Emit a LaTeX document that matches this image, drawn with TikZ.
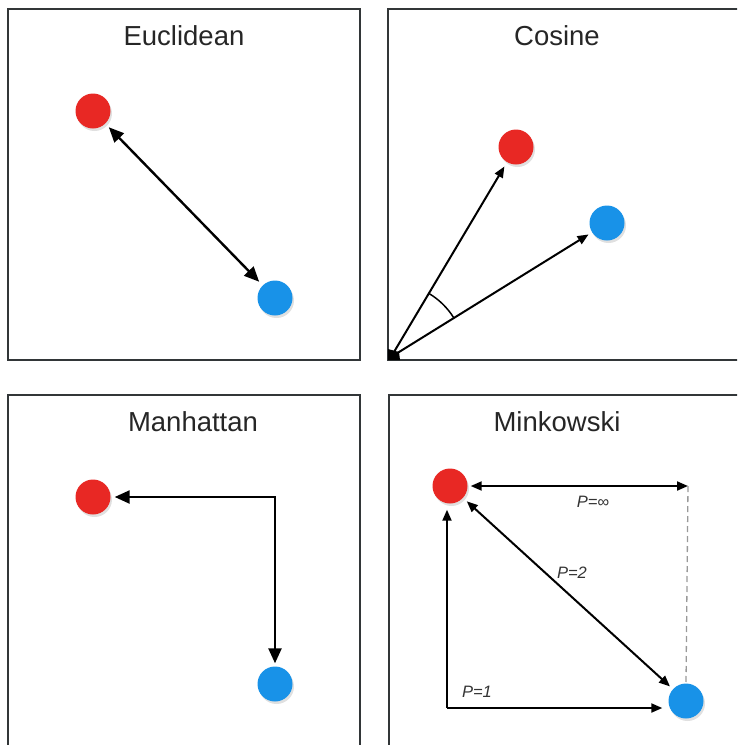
\documentclass[tikz,border=0pt]{standalone}
\usepackage{fontspec}
\setmainfont{Liberation Sans}
\usetikzlibrary{arrows.meta}
\definecolor{dotred}{RGB}{232,40,36}
\definecolor{dotblue}{RGB}{24,146,232}
\definecolor{frame}{RGB}{50,54,56}
\tikzset{
  panel/.style={draw=frame,line width=2.2pt},
  title/.style={font=\fontsize{27.5}{30}\selectfont,text=black!85,inner sep=0pt},
  plabel/.style={font=\itshape\fontsize{16.5}{18}\selectfont,text=black!80,inner sep=0pt},
  dot/.style={circle,minimum size=35pt,inner sep=0pt,
    preaction={fill=black!35,opacity=0.35,transform canvas={shift={(1.5pt,-2.5pt)}}}},
  reddot/.style={dot,fill=dotred},
  bluedot/.style={dot,fill=dotblue},
  bigarrow/.style={line width=2.4pt,arrows={Triangle[length=15pt,width=13pt]-Triangle[length=15pt,width=13pt]}},
  smallarrow/.style={line width=2pt},
  tipL/.style={arrows={Triangle[length=11pt,width=9pt]-}},
  tipR/.style={arrows={-Triangle[length=11pt,width=9pt]}},
  tipLR/.style={arrows={Triangle[length=11pt,width=9pt]-Triangle[length=11pt,width=9pt]}},
}
\begin{document}
\begin{tikzpicture}[x=1pt,y=-1pt]
\useasboundingbox (0,0) rectangle (737,745);
\begin{scope}
\clip (0,0) rectangle (737,745);
% panels
\draw[panel] (8,9) rectangle (360,360);
\draw[panel] (388,9) rectangle (745,360);
\draw[panel] (8,395) rectangle (360,760);
\draw[panel] (389,395) rectangle (745,760);
\end{scope}

% Euclidean
\node[title] (t1) at (184,36) {Euclidean};
\node[reddot] (r1) at (93,111) {};
\node[bluedot] (b1) at (275,298) {};
\draw[bigarrow,shorten <=5pt,shorten >=5pt] (r1) -- (b1);

% Cosine
\node[title] (t2) at (557,36) {Cosine};
\node[reddot] (r2) at (516,147) {};
\node[bluedot] (b2) at (607,223) {};
\coordinate (o) at (391,357);
\fill[black] (388,360) -- (388,349) -- (399,352) -- (400,360) -- cycle;
\draw[smallarrow,tipR,shorten >=5pt] (o) -- (r2);
\draw[smallarrow,tipR,shorten >=4pt] (o) -- (b2);
\draw[line width=1.5pt] ([shift={(-31.9:74)}]o) arc[start angle=-31.9,end angle=-59.4,radius=74];

% Manhattan
\node[title] (t3) at (193,422) {Manhattan};
\node[reddot] (r3) at (93,497) {};
\node[bluedot] (b3) at (275,684) {};
\draw[bigarrow,shorten <=3pt,shorten >=4pt] (b3.north) |- (r3.east);

% Minkowski
\node[title] (t4) at (557,422) {Minkowski};
\node[reddot] (r4) at (450,486) {};
\node[bluedot] (b4) at (686,701) {};
\coordinate (c) at (688,486);
\coordinate (d) at (447,708);
\draw[smallarrow,tipLR,shorten <=3pt] (r4.east) -- (c);
\draw[black!40,line width=1.3pt,dash pattern=on 6pt off 4pt] (c) -- (b4.north);
\draw[smallarrow,tipLR,shorten <=5pt,shorten >=4pt] (r4) -- (b4);
\draw[smallarrow,tipL,shorten <=6pt] (r4.south -| d) -- (d);
\draw[smallarrow,tipR,shorten >=6pt] (d) -- (d -| b4.west);
\node[plabel] (l1) at (593,502) {P=∞};
\node[plabel] (l2) at (572,573) {P=2};
\node[plabel] (l3) at (477,692) {P=1};
\end{tikzpicture}
\end{document}
